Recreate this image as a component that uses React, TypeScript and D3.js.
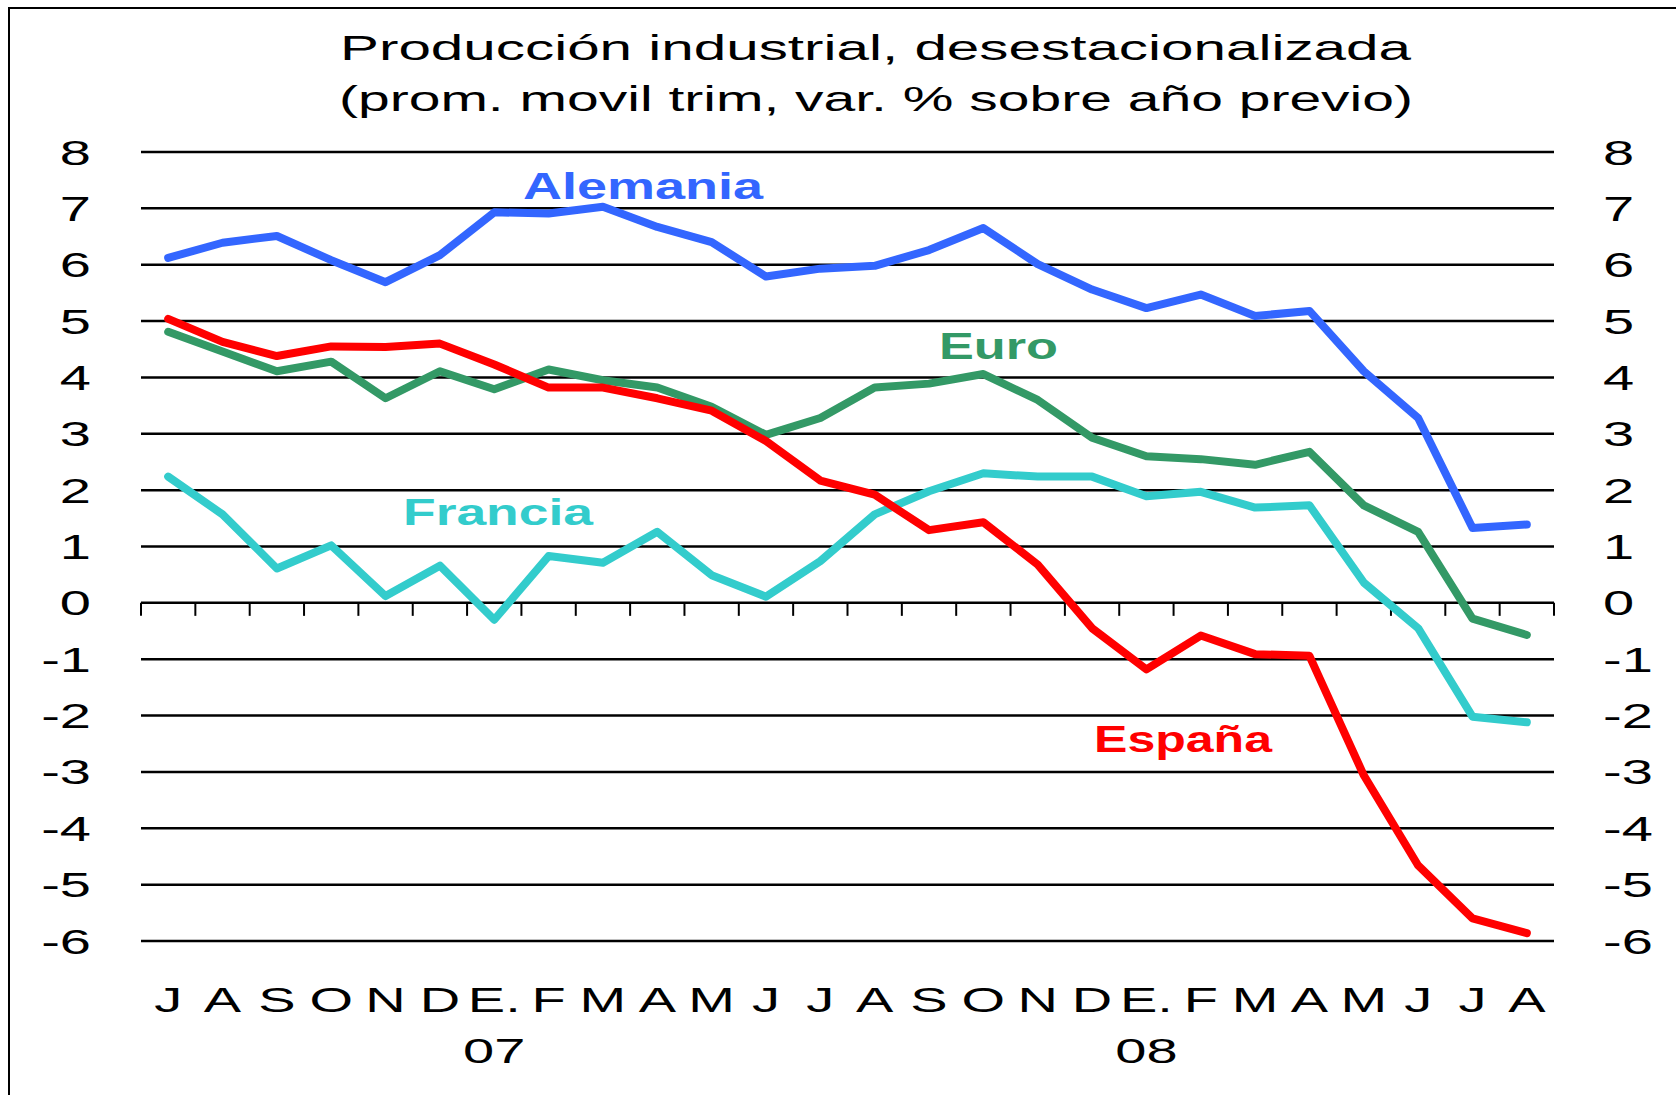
import * as d3 from "d3";

const months = ["J", "A", "S", "O", "N", "D", "E.", "F", "M", "A", "M", "J", "J", "A", "S", "O", "N", "D", "E.", "F", "M", "A", "M", "J", "J", "A"];
const years = [{ idx: 6, label: "07" }, { idx: 18, label: "08" }];
const yTicks = [8, 7, 6, 5, 4, 3, 2, 1, 0, -1, -2, -3, -4, -5, -6];

const alemania = [6.12, 6.39, 6.51, 6.08, 5.69, 6.17, 6.93, 6.91, 7.03, 6.67, 6.4, 5.79, 5.93, 5.98, 6.26, 6.65, 6.01, 5.56, 5.23, 5.47, 5.09, 5.18, 4.11, 3.28, 1.33, 1.39];
const euro = [4.81, 4.46, 4.11, 4.28, 3.63, 4.11, 3.79, 4.14, 3.95, 3.82, 3.48, 2.98, 3.28, 3.82, 3.89, 4.06, 3.6, 2.93, 2.6, 2.55, 2.45, 2.68, 1.73, 1.26, -0.28, -0.57];
const francia = [2.24, 1.57, 0.61, 1.02, 0.12, 0.66, -0.3, 0.83, 0.71, 1.26, 0.49, 0.11, 0.74, 1.57, 1.98, 2.3, 2.24, 2.24, 1.89, 1.97, 1.69, 1.73, 0.36, -0.45, -2.02, -2.12];
const espana = [5.04, 4.63, 4.38, 4.55, 4.54, 4.6, 4.23, 3.82, 3.82, 3.63, 3.41, 2.87, 2.17, 1.92, 1.29, 1.43, 0.68, -0.45, -1.18, -0.58, -0.91, -0.94, -3.06, -4.66, -5.6, -5.86];

// draw order: last one ends up on top
const series = [
  { name: "Euro", values: euro, color: "#339966", lx: 939, ly: 359, lw: 119 },
  { name: "Alemania", values: alemania, color: "#3366FF", lx: 523, ly: 199, lw: 240 },
  { name: "Francia", values: francia, color: "#33CCCC", lx: 403, ly: 525, lw: 190 },
  { name: "España", values: espana, color: "#FF0000", lx: 1094, ly: 752, lw: 178 },
];

const W = 1676;
const H = 1095;
const left = 141;
const right = 1554;
const font = "'Liberation Sans', Arial, sans-serif";
const sx = 1.6;

export default function App() {
  const x = d3.scaleBand<number>().domain(d3.range(months.length)).range([left, right]);
  const y = d3.scaleLinear().domain([-6, 8]).range([941, 152]);
  const cx = (i: number) => (x(i) as number) + x.bandwidth() / 2;
  const line = d3.line<number>().x((_, i) => cx(i)).y((d) => y(d));
  const tickXs = d3.range(months.length + 1).map((i) => left + i * x.bandwidth());

  return (
    <svg width={W} height={H} style={{ position: "absolute", left: 0, top: 0 }} fontFamily={font}>
      <rect x={0} y={0} width={W} height={H} fill="#fff" />
      <rect x={9} y={8} width={W + 20} height={H + 20} fill="none" stroke="#000" strokeWidth={2} />

      <text x={340} y={60} fontSize={35} textLength={1071} lengthAdjust="spacingAndGlyphs">
        Producción industrial, desestacionalizada
      </text>
      <text x={339} y={111} fontSize={35} textLength={1074} lengthAdjust="spacingAndGlyphs">
        (prom. movil trim, var. % sobre año previo)
      </text>

      {yTicks.map((t) => (
        <line key={"g" + t} x1={left} x2={right} y1={y(t)} y2={y(t)} stroke="#000" strokeWidth={2.5} />
      ))}
      {tickXs.map((tx, i) => (
        <line key={"t" + i} x1={tx} x2={tx} y1={y(0)} y2={y(0) + 13} stroke="#000" strokeWidth={2} />
      ))}

      {yTicks.map((t) => (
        <g key={"l" + t}>
          <text transform={`translate(91,${y(t) + 12.5}) scale(${sx},1)`} fontSize={35} textAnchor="end">
            {String(t)}
          </text>
          <text transform={`translate(1603,${y(t) + 12.5}) scale(${sx},1)`} fontSize={35} textAnchor="start">
            {String(t)}
          </text>
        </g>
      ))}

      {months.map((m, i) => (
        <text key={"m" + i} transform={`translate(${cx(i)},1012) scale(${sx},1)`} fontSize={35} textAnchor="middle">
          {m}
        </text>
      ))}
      {years.map((yr) => (
        <text key={yr.label} transform={`translate(${cx(yr.idx)},1063) scale(${sx},1)`} fontSize={35} textAnchor="middle">
          {yr.label}
        </text>
      ))}

      {series.map((s) => (
        <path key={s.name} d={line(s.values) as string} fill="none" stroke={s.color} strokeWidth={8} strokeLinejoin="round" strokeLinecap="round" />
      ))}
      {series.map((s) => (
        <text key={"n" + s.name} x={s.lx} y={s.ly} fontSize={36} fontWeight="bold" fill={s.color} textLength={s.lw} lengthAdjust="spacingAndGlyphs">
          {s.name}
        </text>
      ))}
    </svg>
  );
}
